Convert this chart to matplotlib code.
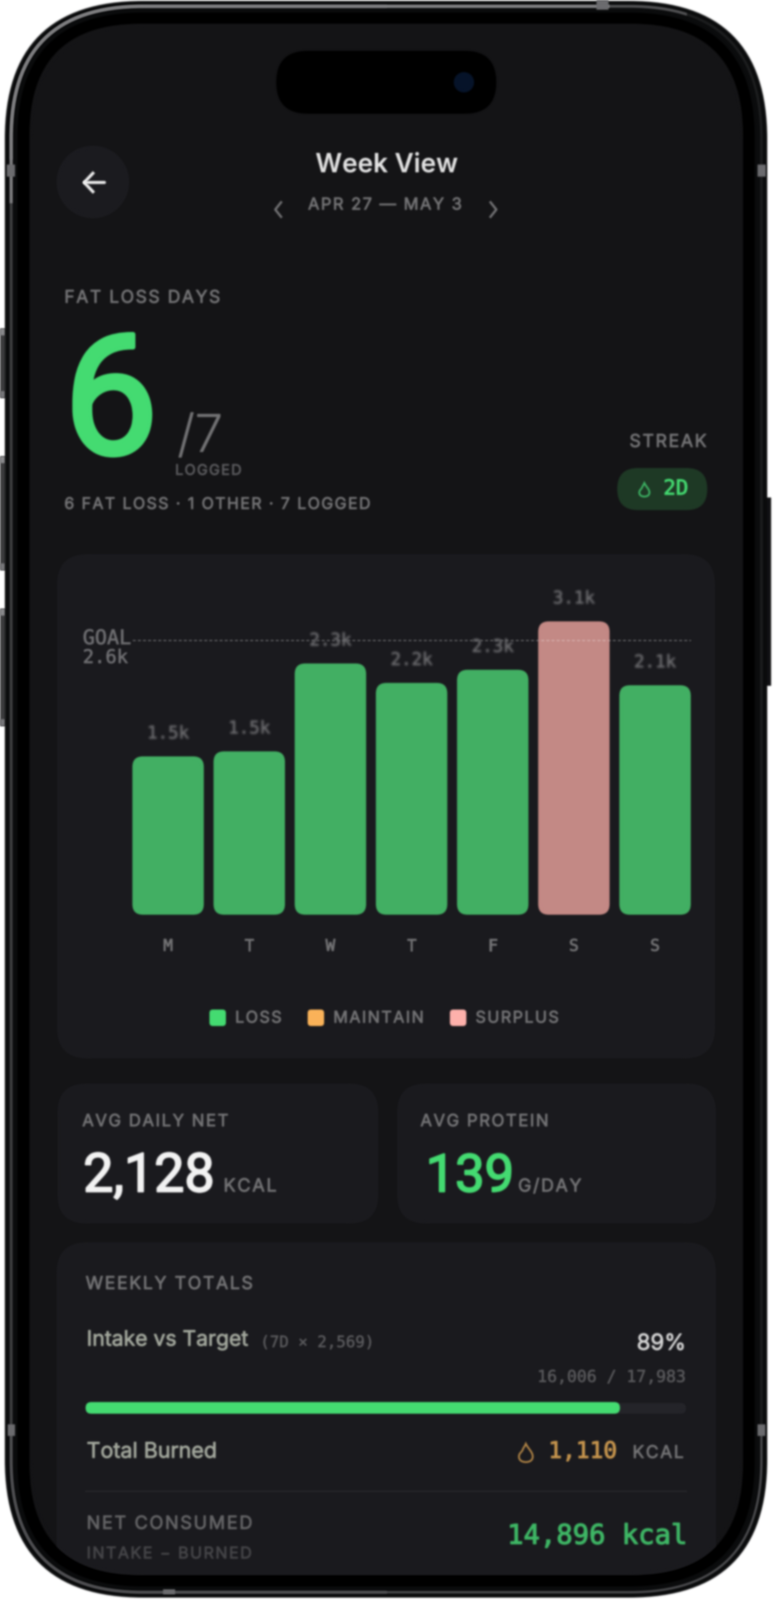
"""Week View phone screen: fat loss days, weekly bars, totals."""
import numpy as np
import matplotlib
matplotlib.use("Agg")
import matplotlib.pyplot as plt
import matplotlib.patheffects as pe
from matplotlib.patches import Circle, FancyBboxPatch, PathPatch, Rectangle
from matplotlib.path import Path

W, H = 1600, 3306
SANS = ["Inter", "DejaVu Sans"]
NUM = ["Roboto", "DejaVu Sans"]
MONO = ["DejaVu Sans Mono"]

C_SCREEN = "#151517"; C_CARD = "#1b1b1f"; C_GREEN = "#45dd72"; C_BAR = "#43b164"
C_PINK = "#c68a86"; C_GREY = "#747476"; C_DIM = "#5a5a5d"; C_TXT = "#a4a99e"

days = ["M", "T", "W", "T", "F", "S", "S"]
day_kcal = [1482, 1529, 2352, 2170, 2293, 3100, 2148]
day_labels = ["1.5k", "1.5k", "2.3k", "2.2k", "2.3k", "3.1k", "2.1k"]
day_status = ["loss", "loss", "loss", "loss", "loss", "surplus", "loss"]
goal_kcal = 2569
bar_cap = 2746  # tallest bar is clipped to this height in the app
status_col = {"loss": C_BAR, "surplus": C_PINK}

legend_names = ["LOSS", "MAINTAIN", "SURPLUS"]
legend_cols = ["#45dd72", "#fdb55a", "#ffb3ad"]
legend_x = [433, 636, 930]

intake_total = 16006
intake_target = 17983


def spaced(s):
    return "\u200a".join(s)


def blur(im, dpi, sigma=1.9):
    pad = 8
    a = np.pad(im, ((pad, pad), (pad, pad), (0, 0)))
    a[..., :3] *= a[..., 3:4]
    x = np.arange(-pad, pad + 1)
    k = np.exp(-x ** 2 / (2 * sigma ** 2)); k /= k.sum()
    for ch in range(4):
        a[..., ch] = np.apply_along_axis(np.convolve, 0, a[..., ch], k, mode="same")
        a[..., ch] = np.apply_along_axis(np.convolve, 1, a[..., ch], k, mode="same")
    alpha = np.maximum(a[..., 3:4], 1e-4)
    a[..., :3] = np.clip(a[..., :3] / alpha, 0, 1)
    return a, -pad, -pad


fig = plt.figure(figsize=(W / 100, H / 100), dpi=100, facecolor="white")
ax = fig.add_axes([0, 0, 1, 1], zorder=1)
ax.set_xlim(0, W); ax.set_ylim(H, 0); ax.axis("off")


def rbox(x0, y0, x1, y1, r, fc, ec="none", lw=0, z=1):
    p = FancyBboxPatch((x0, y0), x1 - x0, y1 - y0, boxstyle=f"round,pad=0,rounding_size={r}",
                       fc=fc, ec=ec, lw=lw, zorder=z)
    ax.add_patch(p)
    return p


def txt(x, y, s, size, col, ha="left", va="center", family=SANS, bold=0, **kw):
    if va == "center":
        y += 3
    t = ax.text(x, y, s, fontsize=size, color=col, ha=ha, va=va, family=family, zorder=5, **kw)
    if bold:
        t.set_path_effects([pe.withStroke(linewidth=bold, foreground=col)])
    return t


def flame(cx, cy, s, col):
    # little drop-shaped flame outline
    verts = [(0, -1), (0.25, -0.45), (0.75, -0.1), (0.75, 0.4), (0.75, 0.85), (0.35, 1), (0, 1),
             (-0.35, 1), (-0.75, 0.85), (-0.75, 0.4), (-0.75, 0.05), (-0.45, -0.1), (-0.35, -0.3),
             (-0.3, -0.55), (-0.1, -0.7), (0, -1), (0, -1)]
    codes = [Path.MOVETO] + [Path.CURVE4] * 15 + [Path.CLOSEPOLY]
    pts = [(cx + vx * s, cy + vy * s) for vx, vy in verts]
    ax.add_patch(PathPatch(Path(pts, codes), fc="none", ec=col, lw=2.6, zorder=5))


# ---------------------------------------------------------------- phone body
for y0, y1 in [(679, 822), (943, 1178), (1258, 1500)]:
    ax.add_patch(Rectangle((0, y0), 13, y1 - y0, fc="#3b3b3d", zorder=0))
    ax.add_patch(Rectangle((0, y0), 13, 14, fc="#8a8a8c", zorder=0))
    ax.add_patch(Rectangle((0, y1 - 14), 13, 14, fc="#77777a", zorder=0))
ax.add_patch(Rectangle((1580, 1028), 14, 389, fc="#111113", zorder=0))
rbox(10, 2, 1586, 3301, 285, "#0a0b0c", z=0.5)

band = (23, 13, 1574, 3290, 272)
rbox(*band, "none", ec="#1e1f20", lw=3.6, z=0.6)
for (cx, cy, cw, ch), col, lw in [((0, 0, 800, H), "#434345", 3.6),
                                  ((0, 0, 1420, 330), "#555557", 3.6),
                                  ((0, 0, 1260, 420), "#858587", 3.8),
                                  ((0, 2950, W, 400), "#555558", 2.4)]:
    edge = rbox(*band, "none", ec=col, lw=lw, z=0.7)
    edge.set_clip_path(Rectangle((cx, cy), cw, ch, transform=ax.transData))
for mx, my, mw, mh in [(14, 340, 17, 25), (1566, 340, 17, 25), (16, 2943, 15, 24), (1566, 2943, 16, 24),
                       (1233, 0, 25, 20), (337, 3284, 25, 10)]:
    ax.add_patch(Rectangle((mx, my), mw, mh, fc="#6c6c6f", zorder=0.8))

rbox(36, 26, 1560, 3278, 258, "#000000", z=0.9)
screen = rbox(61, 49, 1536, 3254, 230, C_SCREEN, z=1)

# dynamic island
rbox(571, 105, 1026, 235, 65, "#000000", z=2)
ax.add_patch(Circle((959, 170), 21, fc="#07142a", zorder=3))

# header
ax.add_patch(Circle((192, 376), 75, fc="#1c1c20", zorder=2))
ax.plot([175, 216], [377, 377], color="#f0f0f0", lw=4.5, zorder=5, solid_capstyle="round")
ax.plot([192, 174, 192], [358, 377, 396], color="#f0f0f0", lw=4.5, zorder=5, solid_joinstyle="round")
txt(799, 338, "Week View", 39, "#e6e6e6", ha="center", fontweight="semibold")
txt(796, 421, spaced("APR 27 — MAY 3"), 24.5, C_GREY, ha="center", bold=1)
ax.plot([581, 569, 581], [418, 433, 448], color=C_GREY, lw=3.4, zorder=5)
ax.plot([1014, 1026, 1014], [418, 433, 448], color=C_GREY, lw=3.4, zorder=5)

# headline
txt(133, 613, spaced("FAT LOSS DAYS"), 26, C_GREY, bold=1)
txt(132, 937, "6", 249, C_GREEN, va="baseline", family=NUM, bold=7)
txt(367, 933, "/7", 76, C_GREY, va="baseline", fontweight="light", bold=1.5)
txt(362, 970, spaced("LOGGED"), 21.5, C_DIM, bold=1)
txt(133, 1040, spaced("6 FAT LOSS · 1 OTHER · 7 LOGGED"), 23.7, C_GREY, bold=1)
txt(1461, 911, spaced("STREAK"), 26.4, C_GREY, ha="right", bold=1)
rbox(1276, 967, 1462, 1054, 43, "#1f3a26", z=2)
flame(1332, 1012, 14, "#3fb866")
txt(1397, 1007, "2D", 31, C_GREEN, ha="center", family=MONO, bold=1)

# ---------------------------------------------------------------- bar chart card
rbox(118, 1145, 1478, 2187, 64, C_CARD, z=2)
px_per_kcal = 567 / goal_kcal
x_lo, x_hi = 263.6, 1438
y_bottom, y_top = 1890, 1200
ax2 = fig.add_axes([x_lo / W, 1 - y_bottom / H, (x_hi - x_lo) / W, (y_bottom - y_top) / H], zorder=2)
ax2.patch.set_alpha(0)
ax2.set_xlim(-0.5, 6.5); ax2.set_ylim(0, (y_bottom - y_top) / px_per_kcal)
for s in ax2.spines.values():
    s.set_visible(False)
ax2.tick_params(length=0, pad=35)
ax2.set_yticks([])
ax2.set_xticks(range(len(days)))
ax2.set_xticklabels(days, family=MONO, fontsize=24, color=C_GREY,
                    path_effects=[pe.withStroke(linewidth=1, foreground=C_GREY)])

bar_w = 0.88; bar_r = 0.13
aspect = (22 / px_per_kcal) / bar_r
for i, (v, st, lab) in enumerate(zip(day_kcal, day_status, day_labels)):
    h = min(v, bar_cap)
    ax2.add_patch(FancyBboxPatch((i - bar_w / 2, 0), bar_w, h,
                                 boxstyle=f"round,pad=0,rounding_size={bar_r}",
                                 mutation_aspect=aspect, fc=status_col[st], ec="none", zorder=2))
    ax2.annotate(lab, (i, h), xytext=(0, 47), textcoords="offset pixels", ha="center", va="center",
                 family=MONO, fontsize=26, color="#6f6f72", zorder=4,
                 path_effects=[pe.withStroke(linewidth=0.8, foreground="#6f6f72")])
ax2.plot([-0.44, 6.44], [goal_kcal, goal_kcal], color="#ffffff", alpha=0.3, lw=2, ls=(0, (2.2, 1.6)), zorder=3)
txt(171, 1316, "GOAL", 30, "#6f6f72", family=MONO, bold=0.8)
txt(171, 1356, "2.6k", 28, "#6f6f72", family=MONO, bold=0.8)

for name, col, x in zip(legend_names, legend_cols, legend_x):
    rbox(x, 2086, x + 34, 2120, 7, col, z=3)
    txt(x + 53, 2101, spaced(name), 24, C_GREY, bold=1)

# ---------------------------------------------------------------- small cards
rbox(119, 2239, 782, 2528, 60, C_CARD, z=2)
rbox(821, 2239, 1480, 2528, 60, C_CARD, z=2)
txt(170, 2315, spaced("AVG DAILY NET"), 25, C_GREY, bold=1)
txt(172, 2462, "2,128", 80, "#f5f5f5", va="baseline", family=NUM, bold=2.5)
txt(462, 2462, spaced("KCAL"), 27, C_GREY, va="baseline", bold=1)
txt(869, 2315, spaced("AVG PROTEIN"), 25, C_GREY, bold=1)
txt(880, 2462, "139", 78, C_GREEN, va="baseline", family=NUM, bold=2.5)
txt(1071, 2462, spaced("G/DAY"), 26.5, C_GREY, va="baseline", bold=1)

# ---------------------------------------------------------------- weekly totals card
card = rbox(117, 2567, 1480, 3400, 64, C_CARD, z=2)
card.set_clip_path(screen)
txt(177, 2651, spaced("WEEKLY TOTALS"), 26.4, C_GREY, bold=1)
txt(179, 2766, "Intake vs Target", 31.5, C_TXT, bold=1)
txt(538, 2771, "(7D × 2,569)", 23.5, C_DIM, family=MONO, bold=0.6)
txt(1418, 2774, "89%", 33, "#d6d6d6", ha="right", bold=1)
txt(1418, 2843, f"{intake_total:,} / {intake_target:,}", 24.5, C_DIM, ha="right", family=MONO, bold=0.6)
tx0, tx1 = 177, 1418
rbox(tx0, 2899, tx1, 2921, 11, "#25252a", z=3)
rbox(tx0, 2897, tx0 + (tx1 - tx0) * (intake_total / intake_target), 2921, 12, C_GREEN, z=4)
txt(179, 2997, "Total Burned", 32, C_TXT, bold=1)
flame(1087, 3002, 19, "#b98a48")
txt(1276, 2997, "1,110", 34, "#c8964e", ha="right", family=MONO, bold=1.2)
txt(1413, 3000, spaced("KCAL"), 26, C_GREY, ha="right", bold=1)
ax.plot([tx0, tx1], [3081, 3081], color="#26262a", lw=2.5, zorder=5)
txt(179, 3146, spaced("NET CONSUMED"), 27, "#656567", bold=1)
txt(179, 3208, spaced("INTAKE − BURNED"), 24, "#454548", bold=1)
txt(1421, 3172, "14,896 kcal", 40.5, "#3fb866", ha="right", family=MONO, bold=1.5)

for a in list(ax.get_children()) + list(ax2.get_children()) + ax2.get_xticklabels():
    if a in (ax.patch, ax2.patch) or isinstance(a, (matplotlib.axis.Axis, matplotlib.spines.Spine)):
        continue
    a.set_agg_filter(blur)

fig.savefig("out.png", dpi=100, facecolor="white")
